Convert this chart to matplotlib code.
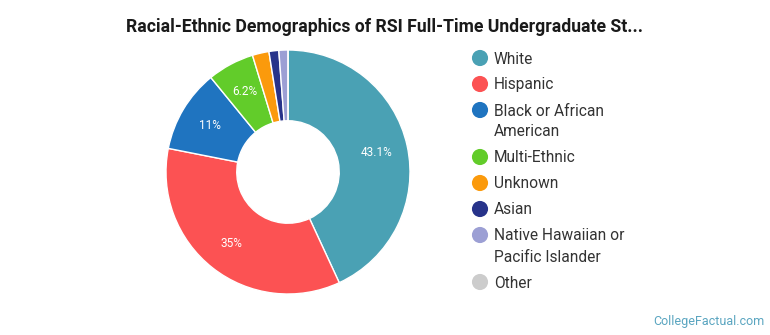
import numpy as np
import matplotlib
matplotlib.use("Agg")
import matplotlib.pyplot as plt

plt.rcParams["font.family"] = ["Roboto", "DejaVu Sans"]

# datos del grafico
categorias = ["White", "Hispanic", "Black or African\nAmerican", "Multi-Ethnic",
              "Unknown", "Asian", "Native Hawaiian or\nPacific Islander", "Other"]
porcentajes = [43.1, 35.0, 11.0, 6.2, 2.2, 1.3, 1.2, 0.0]
etiquetas = ["43.1%", "35%", "11%", "6.2%", "", "", "", ""]
colores = ["#4aa1b4", "#fc5253", "#1f74c0", "#62cc2a", "#fb9a0c", "#27338a", "#9c9fd4", "#cccccc"]

fig = plt.figure(figsize=(7.7, 3.35), dpi=100)
W, H = 770, 335

# dona: centro (288,172) px, radio 122 px
cx, cy, r = 288, 172, 122
ax = fig.add_axes([(cx - r) / W, (H - cy - r) / H, 2 * r / W, 2 * r / H])
cuñas, _ = ax.pie(porcentajes, colors=colores, startangle=90, counterclock=False,
                  radius=1.0, wedgeprops=dict(width=0.58, edgecolor="white", linewidth=1.0))
ax.set_xlim(-1, 1)
ax.set_ylim(-1, 1)
ax.set_aspect("equal")
ax.axis("off")

for cuña, texto in zip(cuñas, etiquetas):
    if not texto:
        continue
    ang = np.deg2rad((cuña.theta1 + cuña.theta2) / 2)
    ax.text(0.745 * np.cos(ang), 0.745 * np.sin(ang), texto, color="white",
            fontsize=8.5, ha="center", va="center")

# titulo
fig.text(385 / W, 1 - 27 / H, "Racial-Ethnic Demographics of RSI Full-Time Undergraduate St...",
         fontsize=12.7, fontweight="bold", color="#1a1a1a", ha="center", va="center")

# leyenda (cada renglon por separado)
leg = fig.add_axes([0, 0, 1, 1])
leg.set_xlim(0, W)
leg.set_ylim(H, 0)
leg.axis("off")
y = 58
for nombre, color in zip(categorias, colores):
    leg.scatter([480], [y], s=135, color=color, edgecolors="none")
    for i, renglon in enumerate(nombre.split("\n")):
        leg.text(494, y + 5.5 + 21 * i, renglon, fontsize=11.2, color="#333333",
                 va="baseline")
    y += 26 + 21 * nombre.count("\n")

# texto de la fuente
fig.text(1 - 6 / W, 1 - 321 / H, "CollegeFactual.com", fontsize=9, color="#5aa5c0",
         ha="right", va="center")

fig.savefig("out.png", dpi=100)
